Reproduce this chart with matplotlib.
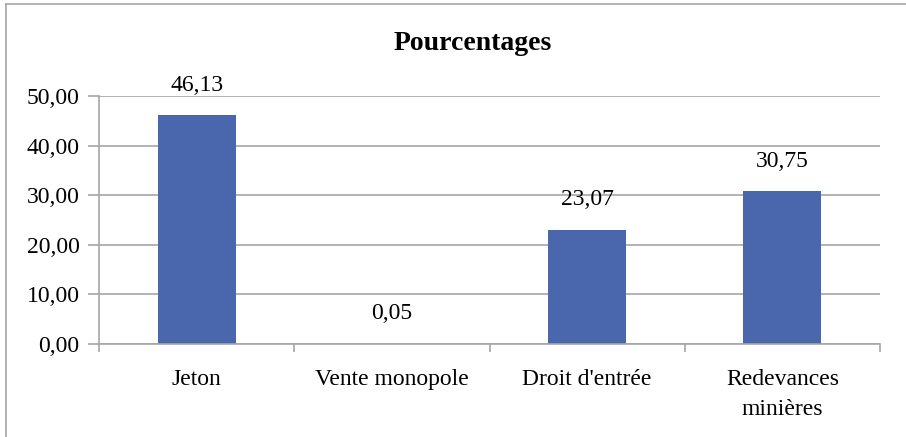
import numpy as np
import matplotlib.pyplot as plt
from matplotlib.lines import Line2D

categories = ["Jeton", "Vente monopole", "Droit d'entrée", "Redevances\nminières"]
values = [46.13, 0.05, 23.07, 30.75]
yticks = [0, 10, 20, 30, 40, 50]

plt.rcParams['font.family'] = ['Liberation Serif', 'DejaVu Serif']

W, H = 906, 437
fig = plt.figure(figsize=(W / 100, H / 100), dpi=100)
ax = fig.add_axes([99 / W, 1 - 344 / H, (880 - 99) / W, (344 - 96) / H])

grey = '#A6A6A6'
bar_color = '#4A66AC'

x = np.arange(len(categories))
ax.bar(x, values, width=0.4, color=bar_color, zorder=2)

for xi, v in zip(x, values):
    ax.annotate(f"{v:.2f}".replace('.', ','), (xi, v), xytext=(0, 14),
                textcoords='offset points', ha='center', va='bottom', fontsize=17)

ax.set_xlim(-0.5, len(categories) - 0.5)
ax.set_ylim(0, 50)
ax.set_yticks(yticks)
ax.set_yticklabels([f"{t:.2f}".replace('.', ',') for t in yticks], fontsize=17)
ax.yaxis.grid(True, color=grey, linewidth=1.2, zorder=0)
ax.set_axisbelow(True)

ax.set_xticks(x)
ax.set_xticklabels(categories, fontsize=17, linespacing=1.55)
ax.set_xticks(np.arange(-0.5, len(categories)), minor=True)
ax.tick_params(axis='x', which='major', length=0, pad=18)
ax.tick_params(axis='x', which='minor', length=6, color=grey, width=1.2)
ax.tick_params(axis='y', length=8, color=grey, width=1.2, pad=6)

for side in ['top', 'right']:
    ax.spines[side].set_visible(False)
for side in ['left', 'bottom']:
    ax.spines[side].set_color(grey)
    ax.spines[side].set_linewidth(1.2)

fig.text(473 / W, 1 - 44 / H, "Pourcentages", ha='center', va='center',
         fontsize=20, fontweight='bold')

# chart frame (left and top edges visible)
fig.add_artist(Line2D([6 / W, 6 / W], [0, 1 - 4 / H], color=grey, linewidth=1.2))
fig.add_artist(Line2D([6 / W, 1], [1 - 4 / H, 1 - 4 / H], color=grey, linewidth=1.2))

fig.savefig('out.png', dpi=100)
